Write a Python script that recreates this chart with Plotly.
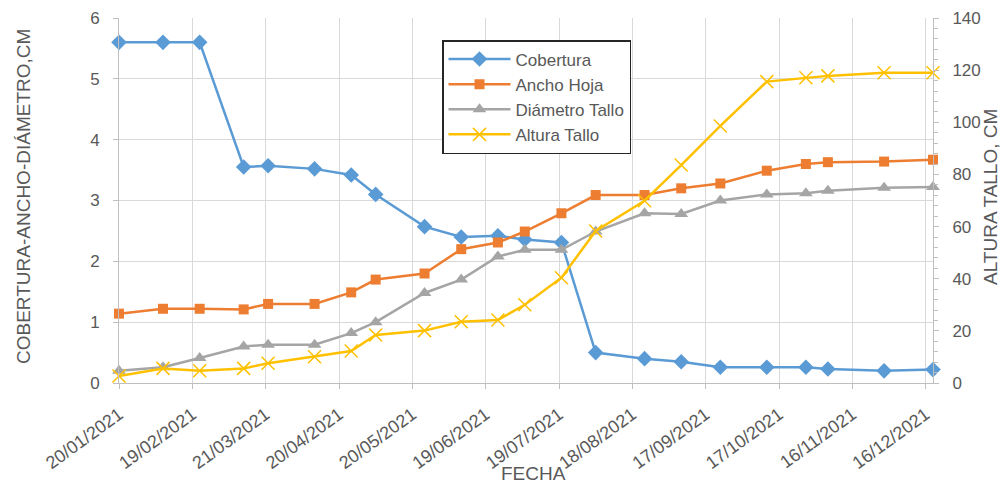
import plotly.graph_objects as go

fechas = ["2021-01-20", "2021-02-07", "2021-02-22", "2021-03-12", "2021-03-22",
          "2021-04-10", "2021-04-25", "2021-05-05", "2021-05-25", "2021-06-09",
          "2021-06-24", "2021-07-05", "2021-07-20", "2021-08-03", "2021-08-23",
          "2021-09-07", "2021-09-23", "2021-10-12", "2021-10-28", "2021-11-06",
          "2021-11-29", "2021-12-19"]

cobertura = [5.6, 5.6, 5.6, 3.55, 3.57, 3.52, 3.42, 3.1, 2.57, 2.4,
             2.42, 2.36, 2.31, 0.5, 0.4, 0.35, 0.26, 0.26, 0.26, 0.23,
             0.2, 0.22]
ancho_hoja = [1.14, 1.22, 1.22, 1.21, 1.3, 1.3, 1.49, 1.7, 1.8, 2.2,
              2.31, 2.49, 2.79, 3.09, 3.09, 3.2, 3.28, 3.49, 3.6, 3.63,
              3.64, 3.67]
diametro_tallo = [0.2, 0.26, 0.41, 0.6, 0.63, 0.63, 0.82, 1.0, 1.48, 1.7,
                  2.08, 2.19, 2.19, 2.49, 2.79, 2.78, 3.0, 3.1, 3.12, 3.16,
                  3.21, 3.22]
altura_tallo = [2.7, 5.6, 4.7, 5.6, 7.6, 10.1, 12.3, 18.4, 20.1, 23.5,
                24.2, 30.0, 40.4, 58.3, 69.9, 83.6, 98.6, 115.6, 117.1, 117.8,
                119.0, 119.0]

x_range = ["2021-01-20", "2021-12-19"]
y_left_range = [0, 6]
y_right_range = [0, 140]

txt = "#595959"
grid = "#d9d9d9"
axis_c = "#bfbfbf"
font_fam = "Liberation Sans, Arial, sans-serif"

fig = go.Figure()
fig.add_trace(go.Scatter(
    x=fechas, y=cobertura, name="Cobertura", mode="lines+markers",
    line=dict(color="#5B9BD5", width=2.5),
    marker=dict(symbol="diamond", size=12, color="#5B9BD5"),
    cliponaxis=False))
fig.add_trace(go.Scatter(
    x=fechas, y=ancho_hoja, name="Ancho Hoja", mode="lines+markers",
    line=dict(color="#ED7D31", width=2.5),
    marker=dict(symbol="square", size=10, color="#ED7D31"),
    cliponaxis=False))
fig.add_trace(go.Scatter(
    x=fechas, y=diametro_tallo, name="Diámetro Tallo", mode="lines+markers",
    line=dict(color="#A5A5A5", width=2.5),
    marker=dict(symbol="triangle-up", size=12, color="#A5A5A5"),
    cliponaxis=False))
fig.add_trace(go.Scatter(
    x=fechas, y=altura_tallo, name="Altura Tallo", mode="lines+markers",
    yaxis="y2",
    line=dict(color="#FFC000", width=2.5),
    marker=dict(symbol="x-thin", size=13, color="#FFC000",
                line=dict(color="#FFC000", width=1.5)),
    cliponaxis=False))

W, H = 1002, 483
ml, mr, mt, mb = 119, 69, 18, 100
pw, ph = W - ml - mr, H - mt - mb

def px_x(p):
    return (p - ml) / pw

def px_y(p):
    return (H - mb - p) / ph

fig.update_layout(
    width=W, height=H,
    margin=dict(l=ml, r=mr, t=mt, b=mb, pad=0),
    paper_bgcolor="white", plot_bgcolor="white",
    font=dict(family=font_fam, color=txt, size=17),
    showlegend=True,
    legend=dict(
        x=px_x(442), y=px_y(40), xanchor="left", yanchor="top",
        bgcolor="white", bordercolor="#262626", borderwidth=1.5,
        font=dict(size=17, color=txt, family=font_fam),
        itemwidth=62, tracegroupgap=0),
    xaxis=dict(
        type="date", range=x_range,
        tick0="2021-01-20", dtick=30 * 86400000,
        tickformat="%d/%m/%Y", tickangle=-36,
        showgrid=True, gridcolor=grid, gridwidth=1,
        showline=True, linecolor=axis_c, linewidth=1,
        ticks="outside", ticklen=5, tickcolor=axis_c,
        tickfont=dict(size=18, color=txt),
        zeroline=False, automargin=False, ticklabelstandoff=8),
    yaxis=dict(
        range=y_left_range, dtick=1,
        showgrid=True, gridcolor=grid, gridwidth=1,
        showline=True, linecolor=axis_c,
        ticks="outside", ticklen=5, tickcolor=axis_c,
        tickfont=dict(size=17, color=txt),
        zeroline=False, automargin=False, ticklabelstandoff=10),
    yaxis2=dict(
        range=y_right_range, dtick=20, overlaying="y", side="right",
        showgrid=False,
        showline=True, linecolor=axis_c,
        ticks="outside", ticklen=5, tickcolor=axis_c,
        minor=dict(dtick=4, ticks="outside", ticklen=4, tickcolor=axis_c, showgrid=False),
        tickfont=dict(size=17, color=txt),
        zeroline=False, automargin=False, ticklabelstandoff=10),
    annotations=[
        dict(text="COBERTURA-ANCHO-DIÁMETRO,CM", xref="paper", yref="paper",
             x=px_x(23), y=px_y(197), textangle=-90, showarrow=False,
             font=dict(size=19, color=txt), xanchor="center", yanchor="middle"),
        dict(text="ALTURA TALLO, CM", xref="paper", yref="paper",
             x=px_x(990), y=px_y(197), textangle=-90, showarrow=False,
             font=dict(size=19, color=txt), xanchor="center", yanchor="middle"),
        dict(text="FECHA", xref="paper", yref="paper",
             x=px_x(533), y=px_y(473), showarrow=False,
             font=dict(size=19, color=txt), xanchor="center", yanchor="middle"),
    ],
)

fig.write_html("out.html")
